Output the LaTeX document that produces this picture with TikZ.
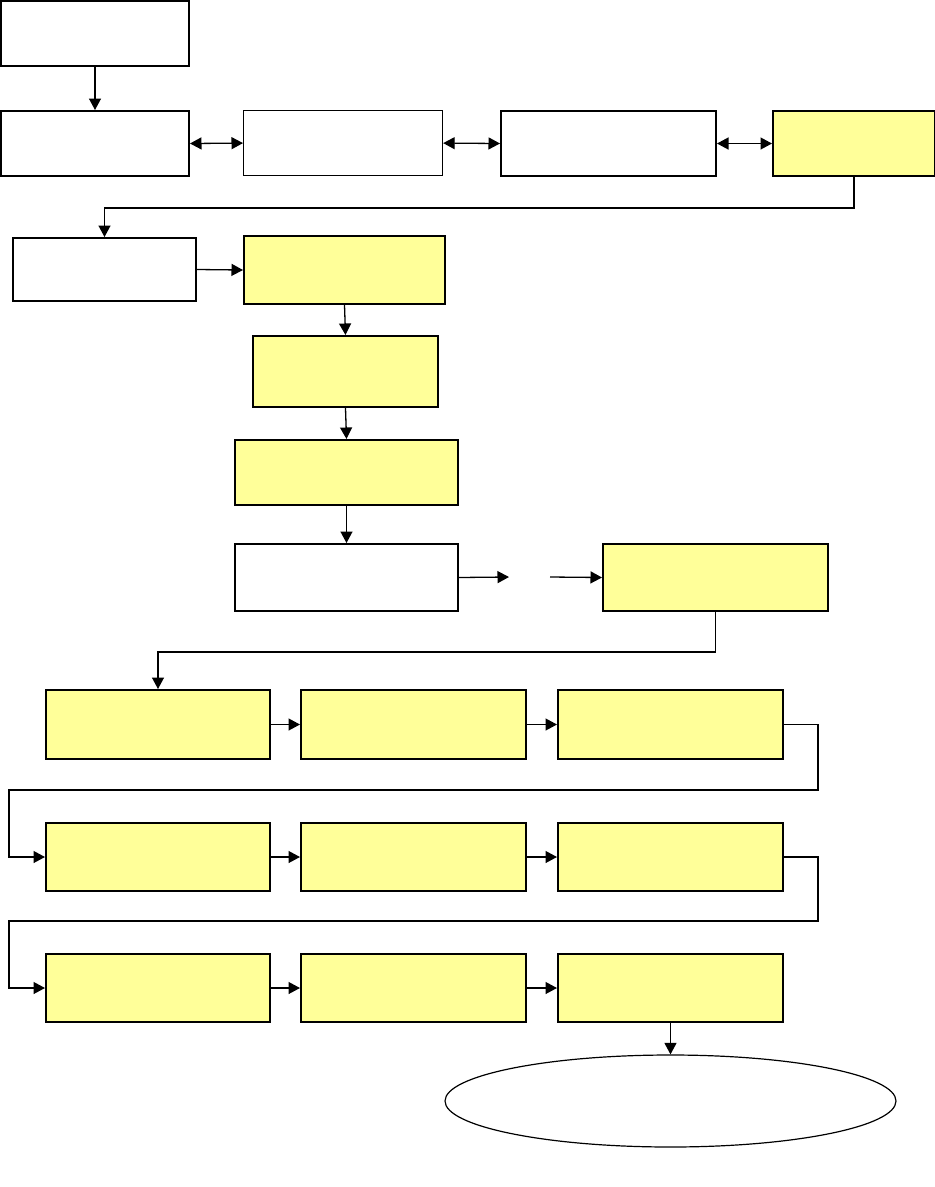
\documentclass[tikz,border=0pt]{standalone}
\usetikzlibrary{arrows.meta,shapes.geometric}
\definecolor{pale}{HTML}{FFFF99}
\tikzset{
  box/.style={draw=black, line width=2pt, rectangle, inner sep=0pt, anchor=north west},
  thinbox/.style={box, line width=1.2pt},
  yel/.style={fill=pale},
  arr/.style={line width=1.3pt, -{Triangle[length=11.5pt,width=12pt]}},
  darr/.style={line width=1.3pt, {Triangle[length=11.5pt,width=12pt]}-{Triangle[length=11.5pt,width=12pt]}},
  oval/.style={draw=black, line width=1.2pt, ellipse, inner sep=0pt}
}
\begin{document}
\begin{tikzpicture}[x=1pt,y=-1pt]
\useasboundingbox (0,0) rectangle (935,1187);
% top row
\node[box, minimum width=188, minimum height=65] (b1) at (0,0) {};
\node[box, minimum width=188, minimum height=65] (b2) at (0,110) {};
\node[thinbox, minimum width=199, minimum height=65] (b3) at (243,110) {};
\node[box, minimum width=215, minimum height=65] (b4) at (500,110) {};
\node[box, yel, minimum width=162, minimum height=65] (b5) at (772,110) {};
% middle
\node[box, minimum width=183, minimum height=63] (b6) at (12,237) {};
\node[box, yel, minimum width=201, minimum height=68] (b7) at (243,235) {};
\node[box, yel, minimum width=185, minimum height=71] (b8) at (252,335) {};
\node[box, yel, minimum width=223, minimum height=65] (b9) at (234,439) {};
\node[box, minimum width=223, minimum height=67] (b10) at (234,543) {};
\node[box, yel, minimum width=225, minimum height=67] (b11) at (602,543) {};
% grid rows
\node[box, yel, minimum width=224, minimum height=69] (r11) at (45,689) {};
\node[box, yel, minimum width=225, minimum height=69] (r12) at (300,689) {};
\node[box, yel, minimum width=225, minimum height=69] (r13) at (557,689) {};
\node[box, yel, minimum width=224, minimum height=68] (r21) at (45,822) {};
\node[box, yel, minimum width=225, minimum height=68] (r22) at (300,822) {};
\node[box, yel, minimum width=225, minimum height=68] (r23) at (557,822) {};
\node[box, yel, minimum width=224, minimum height=68] (r31) at (45,953) {};
\node[box, yel, minimum width=225, minimum height=68] (r32) at (300,953) {};
\node[box, yel, minimum width=225, minimum height=68] (r33) at (557,953) {};
\node[oval, minimum width=451, minimum height=92] (ell) at (670.5,1101) {};
% coordinates
\coordinate (g1) at (509,577);
\coordinate (g2) at (550,577);
\coordinate (k1) at (818,790);
\coordinate (k2) at (9,790);
\coordinate (k3) at (818,921);
\coordinate (k4) at (9,921);
% connectors
\draw[arr] (b1.south) -- (b2.north);
\draw[darr] (b2.east) -- (b3.west);
\draw[darr] (b3.east) -- (b4.west);
\draw[darr] (b4.east) -- (b5.west);
\draw[arr] (b5.south) -- ++(0,31) -| (b6.north);
\draw[arr] (b6.east) -- (b7.west);
\draw[arr] (b7.south) -- (b8.north);
\draw[arr] (b8.south) -- (b9.north);
\draw[arr] (b9.south) -- (b10.north);
\draw[arr] (b10.east) -- (g1);
\draw[arr] (g2) -- (b11.west);
\draw[arr] (b11.south) -- ++(0,40) -| (r11.north);
\draw[arr] (r11.east) -- (r12.west);
\draw[arr] (r12.east) -- (r13.west);
\draw[arr] (r13.east) -| (k1) -- (k2) |- (r21.west);
\draw[arr] (r21.east) -- (r22.west);
\draw[arr] (r22.east) -- (r23.west);
\draw[arr] (r23.east) -| (k3) -- (k4) |- (r31.west);
\draw[arr] (r31.east) -- (r32.west);
\draw[arr] (r32.east) -- (r33.west);
\draw[arr] (r33.south) -- (ell.north);
\end{tikzpicture}
\end{document}
